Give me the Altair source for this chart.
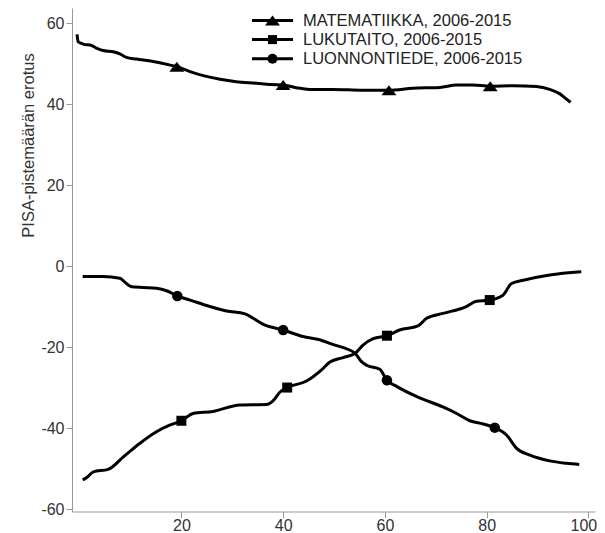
import altair as alt
import pandas as pd

series = ["MATEMATIIKKA, 2006-2015", "LUKUTAITO, 2006-2015", "LUONNONTIEDE, 2006-2015"]

# MATEMATIIKKA curve
math_x = [-0.5, -0.3, 0.7, 2.4, 3.3, 4.6, 6.6, 7.9, 9.2, 11.2, 14.5, 17.1, 19.1, 21.7, 24.3, 27.6,
          30.8, 34.8, 37.4, 40.0, 42.6, 45.2, 49.8, 55.7, 60.8, 65.5, 70.8, 74.1, 77.3, 80.7,
          85.2, 89.8, 92.4, 94.4, 95.7, 96.5]
math_y = [57.3, 55.5, 54.9, 54.5, 53.9, 53.3, 53.0, 52.5, 51.6, 51.2, 50.6, 49.9, 49.3, 48.1, 47.1, 46.2,
          45.6, 45.2, 44.9, 44.8, 44.1, 43.7, 43.7, 43.5, 43.5, 44.0, 44.2, 44.8, 44.8, 44.5,
          44.6, 44.4, 43.7, 42.6, 41.3, 40.5]

# LUKUTAITO curve
read_x = [0.6, 1.4, 2.7, 5.6, 8.6, 11.8, 15.1, 17.7, 20.0, 22.3, 26.2, 31.5, 36.7, 38.0, 39.4, 40.8,
          44.6, 47.5, 49.2, 51.8, 54.1, 55.7, 57.7, 60.4, 62.9, 66.5, 68.2, 71.4, 76.0, 78.0,
          80.6, 83.2, 84.9, 87.2, 92.4, 98.6]
read_y = [-52.7, -52.1, -50.7, -50.1, -47.0, -43.7, -40.8, -39.2, -38.1, -36.3, -35.8, -34.2, -34.1, -33.2,
          -31.0, -29.9, -28.3, -25.6, -23.6, -22.5, -21.5, -19.4, -17.8, -17.1, -15.7, -14.7, -12.8,
          -11.6, -9.9, -8.6, -8.3, -7.1, -4.2, -3.4, -2.1, -1.3]

# LUONNONTIEDE curve
sci_x = [0.6, 4.6, 7.9, 8.9, 10.2, 12.5, 15.1, 17.1, 19.2, 21.7, 25.6, 28.9, 32.5, 34.1, 36.1, 40.0,
         43.9, 47.2, 49.6, 54.1, 55.4, 56.4, 59.0, 60.4, 62.3, 66.2, 71.4, 74.1, 76.7, 79.3, 81.6,
         83.9, 85.9, 88.5, 92.4, 95.7, 98.2]
sci_y = [-2.5, -2.5, -2.9, -3.9, -5.0, -5.2, -5.4, -6.0, -7.3, -8.3, -9.9, -11.0, -11.7, -12.8, -14.3,
         -15.7, -17.3, -18.1, -19.2, -21.4, -23.5, -24.4, -25.4, -28.1, -29.6, -32.1, -34.7, -36.3,
         -38.1, -38.9, -39.8, -41.6, -44.9, -46.6, -48.0, -48.6, -48.9]

# marker positions
math_mx = [19.1, 40.0, 60.8, 80.7]
math_my = [49.3, 44.8, 43.5, 44.5]
read_mx = [20.0, 40.8, 60.4, 80.6]
read_my = [-38.1, -29.9, -17.1, -8.3]
sci_mx = [19.2, 40.0, 60.4, 81.6]
sci_my = [-7.3, -15.7, -28.1, -39.8]

x_ticks = [20, 40, 60, 80, 100]
y_ticks = [-60, -40, -20, 0, 20, 40, 60]

rows = []
for name, xs, ys in [(series[0], math_x, math_y), (series[1], read_x, read_y), (series[2], sci_x, sci_y)]:
    for i, (a, b) in enumerate(zip(xs, ys)):
        rows.append({"series": name, "x": a, "y": b, "order": i})
lines_df = pd.DataFrame(rows)

def mk(name, xs, ys):
    return pd.DataFrame({"series": [name] * len(xs), "x": xs, "y": ys})

math_m = mk(series[0], math_mx, math_my)
read_m = mk(series[1], read_mx, read_my)
sci_m = mk(series[2], sci_mx, sci_my)
legend_df = pd.DataFrame({"series": series})

FONT = "Liberation Sans"
xscale = alt.Scale(domain=[-1.5, 101.3], nice=False, zero=False)
yscale = alt.Scale(domain=[-60.5, 63.8], nice=False, zero=False)

xenc = alt.X("x:Q", scale=xscale, axis=alt.Axis(
    values=x_ticks, title=None, grid=False, domainColor="#999999", tickColor="#999999",
    tickSize=6, labelPadding=0, labelFont=FONT, labelFontSize=16, labelColor="#333333",
    labelExpr="'' + datum.value", labelFlush=False,
    labelOffset={"condition": {"test": "datum.value == 100", "value": -5}, "value": 0}))
yenc = alt.Y("y:Q", scale=yscale, axis=alt.Axis(
    values=y_ticks, title="PISA-pistemäärän erotus", grid=False, domainColor="#999999",
    tickColor="#999999", tickSize=6, labelPadding=2, labelFont=FONT, labelFontSize=16,
    labelColor="#333333", labelExpr="'' + datum.value",
    titleFont=FONT, titleFontSize=16.5, titleFontWeight="normal", titleColor="#333333",
    titleAngle=270, titleX=-36, titleY=137, titleAlign="center", titleBaseline="bottom"))

lines = alt.Chart(lines_df).mark_line(
    color="black", strokeWidth=3, interpolate="monotone"
).encode(x=xenc, y=yenc, detail="series:N", order="order:Q")

tri = "M-1,0.67L0,-0.67L1,0.67Z"
m_math = alt.Chart(math_m).mark_point(filled=True, color="black", opacity=1, shape=tri, size=225).encode(x=xenc, y=yenc)
m_read = alt.Chart(read_m).mark_point(filled=True, color="black", opacity=1, shape="square", size=100).encode(x=xenc, y=yenc)
m_sci = alt.Chart(sci_m).mark_point(filled=True, color="black", opacity=1, shape="circle", size=110).encode(x=xenc, y=yenc)

main = alt.layer(lines, m_math, m_read, m_sci)

# legend built from the series list, rows placed by a point scale
ly = alt.Y("series:N", scale=alt.Scale(type="point", domain=series, range=[12.5, 50.7], padding=0), axis=None)
leg_base = alt.Chart(legend_df)
leg_rule = leg_base.mark_rule(color="black", strokeWidth=3).encode(
    y=ly, x=alt.value(180), x2=alt.value(221))
leg_tri = leg_base.transform_filter(alt.datum.series == series[0]).mark_point(
    filled=True, color="black", opacity=1, shape=tri, size=225).encode(y=ly, x=alt.value(200.5))
leg_sq = leg_base.transform_filter(alt.datum.series == series[1]).mark_point(
    filled=True, color="black", opacity=1, shape="square", size=81).encode(y=ly, x=alt.value(200.5))
leg_ci = leg_base.transform_filter(alt.datum.series == series[2]).mark_point(
    filled=True, color="black", opacity=1, shape="circle", size=100).encode(y=ly, x=alt.value(200.5))
leg_text = leg_base.mark_text(align="left", baseline="middle", font=FONT, fontSize=16.5,
                              color="#222222").encode(y=ly, x=alt.value(231), text="series:N")
legend = alt.layer(leg_rule, leg_tri, leg_sq, leg_ci, leg_text)

chart = alt.layer(main, legend).resolve_scale(y="independent").properties(
    width=523, height=503.5,
    autosize=alt.AutoSizeParams(type="none"),
    padding={"left": 64, "top": 0, "right": 2, "bottom": 21},
).configure_view(stroke=None).configure_axis(domainWidth=1, tickWidth=1)

chart.save("out.html", embed_options={"renderer": "svg", "actions": False})
